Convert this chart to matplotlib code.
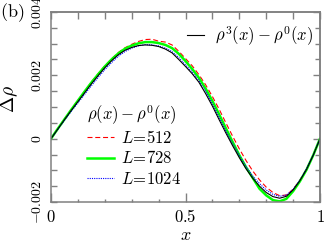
import numpy as np
import matplotlib
matplotlib.use("Agg")
import matplotlib.pyplot as plt
from matplotlib.ticker import MultipleLocator, FixedLocator, FixedFormatter, NullFormatter

plt.rcParams["mathtext.fontset"] = "cm"
plt.rcParams["font.family"] = "serif"
plt.rcParams["font.serif"] = ["DejaVu Serif"]

# data, values in units of 1e-3
SCALE = 1e-3
x = np.linspace(0, 1, 41)
d_rho3 = [0, 0.30, 0.60, 0.89, 1.17, 1.45, 1.73, 1.99, 2.24, 2.46, 2.65, 2.79, 2.88,
          2.94, 2.96, 2.95, 2.91, 2.83, 2.71, 2.50, 2.28, 2.05, 1.78, 1.42, 1.03,
          0.60, 0.18, -0.22, -0.60, -0.95, -1.25, -1.50, -1.70, -1.83, -1.88,
          -1.82, -1.62, -1.33, -0.97, -0.52, 0]
d_L512 = [0, 0.31, 0.62, 0.92, 1.21, 1.50, 1.79, 2.05, 2.30, 2.52, 2.72, 2.87, 2.98,
          3.07, 3.13, 3.14, 3.08, 3.05, 2.96, 2.76, 2.53, 2.30, 2.02, 1.70, 1.33,
          0.93, 0.50, 0.08, -0.32, -0.69, -1.02, -1.30, -1.53, -1.70, -1.80,
          -1.78, -1.60, -1.31, -0.95, -0.50, 0]
d_L728 = [0, 0.31, 0.61, 0.91, 1.20, 1.49, 1.77, 2.03, 2.28, 2.50, 2.69, 2.84, 2.94,
          3.01, 3.05, 3.05, 3.02, 2.96, 2.86, 2.68, 2.45, 2.20, 1.92, 1.58, 1.19,
          0.77, 0.33, -0.10, -0.52, -0.90, -1.24, -1.58, -1.79, -1.94, -1.98,
          -1.90, -1.66, -1.35, -0.98, -0.52, 0]
d_L1024 = [0, 0.29, 0.58, 0.86, 1.13, 1.40, 1.67, 1.93, 2.18, 2.40, 2.60, 2.75, 2.86,
           2.93, 2.97, 2.96, 2.93, 2.86, 2.75, 2.56, 2.33, 2.10, 1.83, 1.49, 1.10,
           0.68, 0.25, -0.15, -0.53, -0.88, -1.18, -1.42, -1.62, -1.76, -1.82,
           -1.78, -1.60, -1.31, -0.95, -0.51, 0]

yticks = [-0.002, 0, 0.002, 0.004]
ytick_labels = [r"$-0.002$", r"$0$", r"$0.002$", r"$0.004$"]
xticks = [0, 0.5, 1]
xtick_labels = [r"$0$", r"$0.5$", r"$1$"]

SPINE = "#808080"

fig = plt.figure(figsize=(3.27, 2.45), dpi=100)
ax = fig.add_axes([51/327, 1 - 202/245, 269/327, 190/245])

l512, = ax.plot(x, np.array(d_L512)*SCALE, color="red", lw=0.8, ls=(0, (4.5, 2.5)))
l728, = ax.plot(x, np.array(d_L728)*SCALE, color="lime", lw=1.8)
l1024, = ax.plot(x, np.array(d_L1024)*SCALE, color="blue", lw=0.8, ls=(0, (1, 1)))
l3, = ax.plot(x, np.array(d_rho3)*SCALE, color="black", lw=0.8)

ax.set_xlim(0, 1)
ax.set_ylim(-0.002, 0.004)

ax.xaxis.set_major_locator(FixedLocator(xticks))
ax.xaxis.set_major_formatter(FixedFormatter(xtick_labels))
ax.xaxis.set_minor_locator(MultipleLocator(0.1))
ax.yaxis.set_major_locator(FixedLocator(yticks))
ax.yaxis.set_major_formatter(FixedFormatter(ytick_labels))
ax.yaxis.set_minor_locator(MultipleLocator(0.0005))

for s in ax.spines.values():
    s.set_color(SPINE)
    s.set_linewidth(1.1)
ax.tick_params(which="both", direction="in", color=SPINE, width=1.0)
ax.tick_params(axis="x", which="major", length=6.5, labelsize=12, pad=5)
ax.tick_params(axis="x", which="minor", length=2.5)
ax.tick_params(axis="y", which="both", length=4.2, labelsize=10, pad=5)
for lab in ax.get_yticklabels():
    lab.set_rotation(90)
    lab.set_va("center")

# top and right ticks with their own lengths
top = ax.secondary_xaxis("top")
top.xaxis.set_major_locator(FixedLocator(xticks))
top.xaxis.set_minor_locator(MultipleLocator(0.1))
top.xaxis.set_major_formatter(NullFormatter())
top.tick_params(which="both", direction="in", length=5, color=SPINE, width=1.0)
right = ax.secondary_yaxis("right")
right.yaxis.set_major_locator(FixedLocator(yticks))
right.yaxis.set_minor_locator(MultipleLocator(0.0005))
right.yaxis.set_major_formatter(NullFormatter())
right.tick_params(which="major", direction="in", length=5, color=SPINE, width=1.0)
right.tick_params(which="minor", direction="in", length=3.5, color=SPINE, width=1.0)
for sa in (top, right):
    for s in sa.spines.values():
        s.set_color(SPINE)
        s.set_linewidth(1.1)

ax.set_xlabel(r"$x$", fontsize=13, labelpad=0)
ax.set_ylabel(r"$\Delta\rho$", fontsize=14, labelpad=2)
ax.yaxis.set_label_coords(-0.115, 0.54)
fig.text(0.0, 0.95, r"$\mathrm{(b)}$", fontsize=13, va="center", ha="left")

leg1 = ax.legend([l3], [r"$\rho^3(x) - \rho^0(x)$"], loc="upper right",
                 bbox_to_anchor=(0.975, 0.935), frameon=False, fontsize=12,
                 handlelength=1.0, handletextpad=0.7, borderpad=0, borderaxespad=0)
ax.add_artist(leg1)
leg2 = ax.legend([l512, l728, l1024], [r"$L\!=\!512$", r"$L\!=\!728$", r"$L\!=\!1024$"],
                 title=r"$\rho(x) - \rho^0(x)$", title_fontsize=12, alignment="left",
                 loc="upper left", bbox_to_anchor=(0.135, 0.52), frameon=False,
                 fontsize=12, handlelength=1.6, handletextpad=0.45, labelspacing=0.2,
                 borderpad=0, borderaxespad=0)

fig.savefig("out.png", dpi=100)
